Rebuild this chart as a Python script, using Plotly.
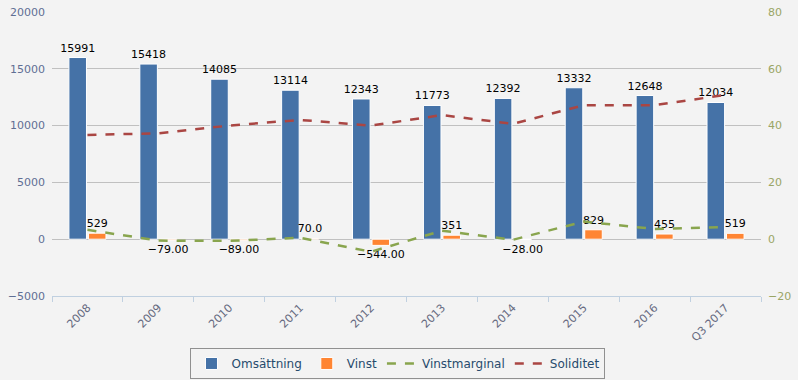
import plotly.graph_objects as go

categories = ["2008", "2009", "2010", "2011", "2012", "2013", "2014", "2015", "2016", "Q3 2017"]
omsattning = [15991, 15418, 14085, 13114, 12343, 11773, 12392, 13332, 12648, 12034]
vinst = [529, -79, -89, 70, -544, 351, -28, 829, 455, 519]
vinst_labels = ["529", "−79.00", "−89.00", "70.0", "−544.00", "351", "−28.00", "829", "455", "519"]
vinstmarginal = [3.3, -0.5, -0.6, 0.5, -4.4, 3.0, -0.2, 6.2, 3.6, 4.3]
soliditet = [36.7, 37.3, 40.0, 42.0, 40.0, 43.7, 40.6, 47.2, 47.2, 50.8]

FONT = "DejaVu Sans"
BG = "#f3f3f3"

fig = go.Figure()
fig.add_trace(go.Bar(
    x=categories, y=omsattning, name="Omsättning",
    marker=dict(color="#4572a7", line=dict(color="white", width=1)),
    text=[str(v) for v in omsattning], textposition="outside",
    textfont=dict(family=FONT, size=11, color="#000000"),
    constraintext="none", cliponaxis=False,
))
fig.add_trace(go.Bar(
    x=categories, y=vinst, name="Vinst",
    marker=dict(color="#ff8533", line=dict(color="white", width=1)),
    text=vinst_labels, textposition="outside",
    textfont=dict(family=FONT, size=11, color="#000000"),
    constraintext="none", cliponaxis=False,
))
fig.add_trace(go.Scatter(
    x=categories, y=vinstmarginal, name="Vinstmarginal", yaxis="y2",
    mode="lines", line=dict(color="#89a54e", width=2.5, dash="dash"),
))
fig.add_trace(go.Scatter(
    x=categories, y=soliditet, name="Soliditet", yaxis="y2",
    mode="lines", line=dict(color="#aa4643", width=2.5, dash="dash"),
))

fig.update_layout(
    width=798, height=380,
    paper_bgcolor=BG, plot_bgcolor=BG,
    margin=dict(l=52, r=37, t=12, b=84, autoexpand=False),
    barmode="group", bargap=0.45, bargroupgap=0.1,
    font=dict(family=FONT, size=11),
    showlegend=True,
    legend=dict(
        orientation="h", x=0.488, xanchor="center", y=-0.183, yanchor="top",
        bgcolor=BG, bordercolor="#909090", borderwidth=1,
        font=dict(family=FONT, size=12, color="#274b6d"),
        itemwidth=30, tracegroupgap=0,
    ),
    xaxis=dict(
        type="category", tickangle=-45, tickson="boundaries",
        ticks="outside", ticklen=5, tickcolor="#c0d0e0",
        showline=True, linecolor="#c0d0e0", linewidth=1,
        showgrid=False, tickfont=dict(family=FONT, size=11, color="#666a80"),
        automargin=False,
    ),
    yaxis=dict(
        range=[-5000, 20000], dtick=5000, tick0=0,
        showgrid=True, gridcolor="#c0c0c0", gridwidth=1,
        zeroline=False, tickformat="d",
        tickfont=dict(family=FONT, size=11, color="#5f6f94"),
        ticklabelstandoff=6, automargin=False,
    ),
    yaxis2=dict(
        range=[-20, 80], dtick=20, tick0=0, overlaying="y", side="right",
        showgrid=False, zeroline=False,
        tickfont=dict(family=FONT, size=11, color="#9aa565"),
        ticklabelstandoff=6, automargin=False,
    ),
)

fig.write_html("out.html", config={"displayModeBar": False})

with open("out.html", "r", encoding="utf-8") as f:
    html = f.read()
html = html.replace("<head>", "<head><style>html,body{margin:0;padding:0;background:#f3f3f3;overflow:hidden;}</style>", 1)
with open("out.html", "w", encoding="utf-8") as f:
    f.write(html)
